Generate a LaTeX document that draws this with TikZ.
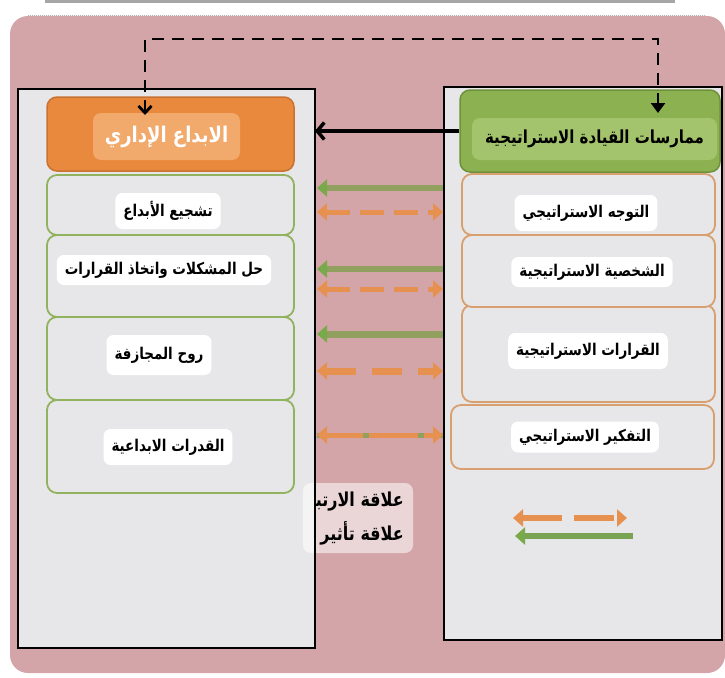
\documentclass[tikz,border=0pt]{standalone}
\usepackage{graphicx}
\usepackage{fontspec}
\newfontfamily\arabicfont[Script=Arabic]{DejaVu Sans}
\TeXXeTstate=1
\usetikzlibrary{arrows.meta}

\definecolor{bgpink}{RGB}{212,165,168}
\definecolor{panelgray}{RGB}{231,231,233}
\definecolor{ibdorange}{RGB}{232,137,62}
\definecolor{ibdborder}{RGB}{200,115,50}
\definecolor{ibdlight}{RGB}{241,170,108}
\definecolor{mqsgreen}{RGB}{140,177,80}
\definecolor{mqsborder}{RGB}{112,145,60}
\definecolor{mqslight}{RGB}{163,196,108}
\definecolor{itemgreen}{RGB}{145,178,95}
\definecolor{itemorange}{RGB}{216,160,110}
\definecolor{gline}{RGB}{145,160,95}
\definecolor{gtip}{RGB}{120,170,75}
\definecolor{oline}{RGB}{230,145,80}

\newcommand{\artxt}[1]{\scalebox{1}[1.2]{\arabicfont\bfseries\beginR #1\endR}}

\begin{document}
\begin{tikzpicture}
[
    x=1pt, y=-1pt,
    panel/.style={draw=black, line width=2pt, fill=panelgray, inner sep=0pt, outer sep=0pt},
    ibdbox/.style={draw=ibdborder, line width=1.5pt, fill=ibdorange, rounded corners=10pt, inner sep=0pt},
    mqsbox/.style={draw=mqsborder, line width=1.5pt, fill=mqsgreen, rounded corners=10pt, inner sep=0pt},
    ibitem/.style={draw=itemgreen, line width=1.8pt, fill=panelgray, rounded corners=10pt, minimum width=247pt, inner sep=0pt},
    mqitem/.style={draw=itemorange, line width=1.8pt, fill=panelgray, rounded corners=10pt, minimum width=253pt, inner sep=0pt},
    lbl/.style={fill=white, rounded corners=7pt, minimum height=36pt, inner xsep=8pt, font=\fontsize{13.5}{15}\selectfont},
    garrow/.style={draw=gline, line width=5.5pt, -{Triangle[width=17pt,length=10pt,color=gtip]}},
    oarrow/.style={draw=oline, line width=5pt, dash pattern=on 24pt off 10pt, {Triangle[width=17pt,length=10pt]}-{Triangle[width=17pt,length=10pt]}},
]

% background
\useasboundingbox (0,0) rectangle (725,677);
\fill[gray!70] (45,0) rectangle (675,3);
\fill[bgpink, rounded corners=18pt] (10,16) rectangle (725,673);
\draw[gray!60, densely dotted, line width=1pt] (28,16) -- (705,16);

% panels
\node[panel, minimum width=297pt, minimum height=559pt] (lp) at (166.5,368.5) {};
\node[panel, minimum width=278pt, minimum height=553pt] (rp) at (583,363.5) {};

% left side
\node[ibitem, minimum height=93pt] (ib4) at (170.5,446.5) {};
\node[ibitem, minimum height=83pt] (ib3) at (170.5,358.5) {};
\node[ibitem, minimum height=82pt] (ib2) at (170.5,276) {};
\node[ibitem, minimum height=60pt] (ib1) at (170.5,205) {};
\node[ibdbox, minimum width=247pt, minimum height=74pt] (ibd) at (170.5,134) {};
\node[fill=ibdlight, rounded corners=8pt, minimum width=147pt, minimum height=47pt, text=white, font=\fontsize{18}{20}\selectfont] (ibdt) at (166.5,136.5) {\artxt{الابداع الإداري}};

\node[lbl] (ib1t) at (168,211) {\artxt{تشجيع الأبداع}};
\node[lbl, minimum height=30pt] (ib2t) at (164,270) {\artxt{حل المشكلات واتخاذ القرارات}};
\node[lbl, minimum height=40pt] (ib3t) at (159,355) {\artxt{روح المجازفة}};
\node[lbl] (ib4t) at (168,447) {\artxt{القدرات الابداعية}};

% right side
\node[mqitem, minimum width=263pt, minimum height=64pt] (mq4) at (582.5,437) {};
\node[mqitem, minimum height=97pt] (mq3) at (588.5,353.5) {};
\node[mqitem, minimum height=72pt] (mq2) at (588.5,271) {};
\node[mqitem, minimum height=61pt] (mq1) at (588.5,204.5) {};
\node[mqsbox, minimum width=260pt, minimum height=82pt] (mqs) at (590,131) {};
\node[fill=mqslight, rounded corners=8pt, minimum width=245pt, minimum height=42pt, font=\fontsize{15}{17}\selectfont] (mqst) at (594.5,139) {\artxt{ممارسات القيادة الاستراتيجية}};

\node[lbl] (mq1t) at (586,213) {\artxt{التوجه الاستراتيجي}};
\node[lbl, minimum height=30pt] (mq2t) at (592,272) {\artxt{الشخصية الاستراتيجية}};
\node[lbl] (mq3t) at (588,351) {\artxt{القرارات الاستراتيجية}};
\node[lbl, minimum height=31pt] (mq4t) at (585,437) {\artxt{التفكير الاستراتيجي}};

% top links
\coordinate (top) at (400,39);
\coordinate (dl) at (145,115);
\coordinate (dr) at (658,113);
\draw[line width=2.8pt, dash pattern=on 12pt off 8pt, {Straight Barb[length=7pt,width=13pt]}-{Triangle[length=10pt,width=14pt]}]
    (dl) -- (dl |- top) -- (dr |- top) -- (dr);
\draw[line width=3.5pt, -{Straight Barb[length=7pt,width=17pt]}] (mqs.west) -- (lp.east |- mqs.west);

% middle arrows
\coordinate (l1) at (317,188); \coordinate (r1) at (443,188);
\coordinate (l2) at (317,212); \coordinate (r2) at (443,212);
\coordinate (l3) at (317,269); \coordinate (r3) at (443,269);
\coordinate (l4) at (317,289); \coordinate (r4) at (443,289);
\coordinate (l5) at (317,334); \coordinate (r5) at (443,334);
\coordinate (l6) at (317,371); \coordinate (r6) at (443,371);
\coordinate (l7) at (317,435); \coordinate (r7) at (443,435);
\draw[garrow] (r1) -- (l1);
\draw[oarrow] (l2) -- (r2);
\draw[garrow] (r3) -- (l3);
\draw[oarrow] (l4) -- (r4);
\draw[garrow, line width=7pt] (r5) -- (l5);
\draw[oarrow, line width=7pt, dash pattern=on 30pt off 16pt] (l6) -- (r6);
\draw[draw=gline, line width=5pt] (l7) -- (r7);
\draw[oarrow, dash pattern=on 37pt off 6pt on 49pt off 6pt] (l7) -- (r7);

% legend
\node[fill=white, opacity=0.55, rounded corners=8pt, minimum width=110pt, minimum height=70pt] (lgb) at (358,518) {};
\draw[line width=2pt] (lp.north east) -- (lp.south east);
\begin{scope}
\clip (316,480) rectangle (420,560);
\node[anchor=east, inner sep=0pt, font=\fontsize{16}{18}\selectfont] (lgt1) at (404,502) {\artxt{علاقة الارتباط}};
\node[anchor=east, inner sep=0pt, font=\fontsize{16}{18}\selectfont] (lgt2) at (404,533) {\artxt{علاقة تأثير}};
\end{scope}
\coordinate (lg1) at (513,518); \coordinate (lg2) at (627,518);
\coordinate (lg3) at (515,536); \coordinate (lg4) at (633,536);
\draw[oarrow, line width=6pt, dash pattern=on 40pt off 12pt] (lg1) -- (lg2);
\draw[garrow, draw=gtip!85!gray, line width=6pt] (lg4) -- (lg3);

\end{tikzpicture}
\end{document}
